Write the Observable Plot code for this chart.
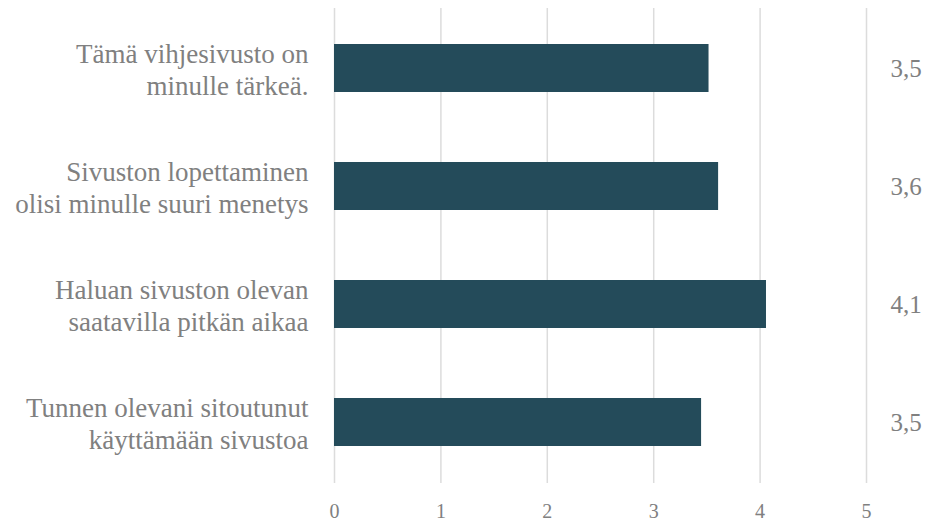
<!DOCTYPE html>
<html><head><meta charset="utf-8">
<script src="https://cdn.jsdelivr.net/npm/d3@7"></script>
<script src="https://cdn.jsdelivr.net/npm/@observablehq/plot@0.6"></script>
<style>body{margin:0;background:#fff}</style>
</head><body><div id="chart"></div>
<script>
const categories = [
  "Tämä vihjesivusto on\nminulle tärkeä.",
  "Sivuston lopettaminen\nolisi minulle suuri menetys",
  "Haluan sivuston olevan\nsaatavilla pitkän aikaa",
  "Tunnen olevani sitoutunut\nkäyttämään sivustoa"
];
const values = [3.52, 3.61, 4.06, 3.45];
const xTicks = [0, 1, 2, 3, 4, 5];

const data = categories.map((c, i) => ({category: c, value: values[i]}));
const fmt = v => v.toFixed(1).replace(".", ",");
const FONT = "'Liberation Serif', 'DejaVu Serif', serif";

const chart = Plot.plot({
  width: 930, height: 526,
  marginLeft: 334, marginRight: 64, marginTop: 8, marginBottom: 43,
  style: {fontFamily: FONT, background: "#fff"},
  x: {domain: [0, 5]},
  y: {domain: categories, paddingInner: 0.59, paddingOuter: 0.295},
  marks: [
    Plot.gridX(xTicks, {stroke: "#dcdcdc", strokeOpacity: 1, strokeWidth: 1.5}),
    Plot.barX(data, {y: "category", x: "value", fill: "#244b5a"}),
    Plot.axisX({ticks: xTicks, tickFormat: d => String(d), tickSize: 0, tickPadding: 20, fontSize: 20, fontFamily: FONT, fill: "#808080", label: null}),
    Plot.axisY({tickSize: 0, tickPadding: 26, fontSize: 27, lineHeight: 1.2, fontFamily: FONT, fill: "#808080", label: null}),
    Plot.text(data, {y: "category", text: d => fmt(d.value), frameAnchor: "right", textAnchor: "start", dx: 24, fontSize: 25, fontFamily: FONT, fill: "#808080"})
  ]
});
document.getElementById("chart").append(chart);
</script>
</body></html>
